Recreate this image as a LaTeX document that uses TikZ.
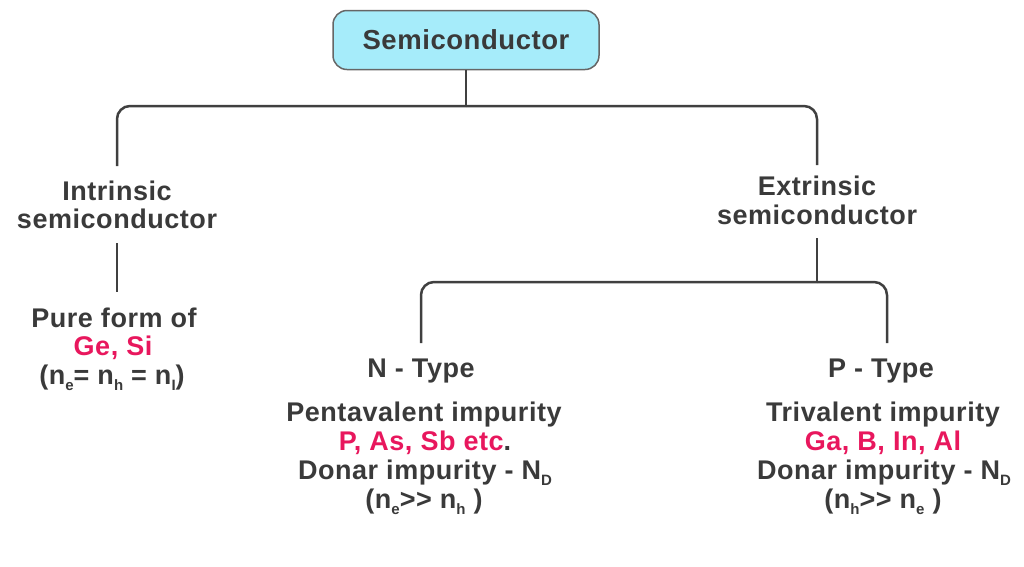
\documentclass[tikz,border=0pt]{standalone}
\usepackage{fontspec}
\setmainfont{Liberation Sans}[LetterSpace=2,Ligatures=NoCommon]
\definecolor{txt}{HTML}{3A3A3A}
\definecolor{ln}{HTML}{404040}
\definecolor{pk}{HTML}{E8175D}
\definecolor{boxfill}{HTML}{A6ECFA}
\newcommand{\lowtxt}[1]{\raisebox{-6pt}{\fontsize{15}{15}\selectfont #1}}
\tikzset{
  lbl/.style={anchor=base, text=txt, font=\bfseries\fontsize{27}{30}\selectfont, inner sep=0pt},
  hot/.style={lbl, text=pk},
  conn/.style={draw=ln, line width=2.5pt},
  titlebox/.style={draw=ln!80, line width=1.5pt, fill=boxfill, rounded corners=14pt,
    minimum width=266pt, minimum height=59pt, inner sep=0pt, text=txt,
    font=\bfseries\fontsize{27.5}{30}\selectfont}
}
\begin{document}
\begin{tikzpicture}[x=1pt,y=-1pt]
\useasboundingbox (0,0) rectangle (1024,566);
% title
\node[titlebox] (semi) at (466,40) {Semiconductor};
% intrinsic
\node[lbl] (intrA) at (117,200) {Intrinsic};
\node[lbl] (intrB) at (117,228) {semiconductor};
\node[lbl] (pure) at (114,327) {Pure form of};
\node[hot] (gesi) at (113,355) {Ge, Si};
\node[lbl] (nint) at (112,384) {(n\lowtxt{e}= n\lowtxt{h} = n\lowtxt{I})};
% extrinsic
\node[lbl] (extrA) at (817,195) {Extrinsic};
\node[lbl] (extrB) at (817,224) {semiconductor};
% N type
\node[lbl] (ntype) at (421,377) {N - Type};
\node[lbl] (n1) at (424,421) {Pentavalent impurity};
\node[lbl] (n2) at (425,450) {\textcolor{pk}{P, As, Sb etc}.};
\node[lbl] (n3) at (425,479) {Donar impurity - N\lowtxt{D}};
\node[lbl] (n4) at (424,508) {(n\lowtxt{e}>{}> n\lowtxt{h} )};
% P type
\node[lbl] (ptype) at (881,377) {P - Type};
\node[lbl] (p1) at (883,421) {Trivalent impurity};
\node[hot] (p2) at (883,450) {Ga, B, In, Al};
\node[lbl] (p3) at (884,479) {Donar impurity - N\lowtxt{D}};
\node[lbl] (p4) at (883,508) {(n\lowtxt{h}>{}> n\lowtxt{e} )};
% connectors
\coordinate (j0) at (466,106);
\coordinate (j1) at (817,282);
\coordinate (k0) at (117,292);
\draw[conn] (semi.south) -- (j0);
\draw[conn, rounded corners=13pt] (j0) -| ([yshift=34pt]intrA.base);
\draw[conn, rounded corners=13pt] (j0) -| ([yshift=30pt]extrA.base);
\draw[conn] ([yshift=-15pt]intrB.base) -- (k0);
\draw[conn] ([yshift=-14pt]extrB.base) -- (j1);
\draw[conn, rounded corners=13pt] (j1) -| ([yshift=34pt]ntype.base);
\draw[conn, rounded corners=13pt] (j1) -| ([xshift=6pt,yshift=34pt]ptype.base);
\end{tikzpicture}
\end{document}
